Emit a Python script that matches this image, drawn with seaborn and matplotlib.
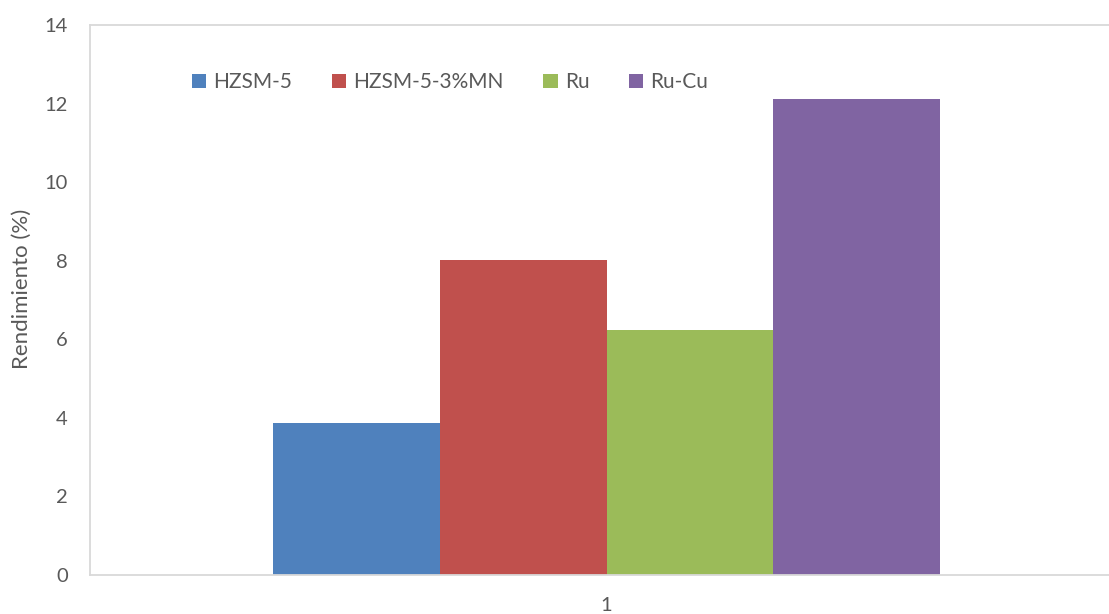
import matplotlib
matplotlib.use("Agg")
import matplotlib.pyplot as plt
import seaborn as sns
import pandas as pd

# Yield per catalyst (single experiment group "1")
catalysts = ["HZSM-5", "HZSM-5-3%MN", "Ru", "Ru-Cu"]
rendimiento = [3.87, 8.02, 6.24, 12.12]
grupo = ["1", "1", "1", "1"]
colores = ["#4F81BD", "#C0504D", "#9BBB59", "#8064A2"]
yticks = [0, 2, 4, 6, 8, 10, 12, 14]

sns.set_theme(style="white")
plt.rcParams["font.family"] = ["Lato", "DejaVu Sans"]

df = pd.DataFrame({"grupo": grupo, "catalizador": catalysts, "rendimiento": rendimiento})

W, H = 1109, 614
fig = plt.figure(figsize=(W / 100, H / 100), dpi=100)
ax = fig.add_axes([90 / W, (H - 575) / H, 1033 / W, 550 / H])

sns.barplot(data=df, x="grupo", y="rendimiento", hue="catalizador",
            hue_order=catalysts, palette=colores, width=0.646,
            saturation=1, ax=ax, legend=True, linewidth=0, errorbar=None)

ax.set_xlim(-0.5, 0.5)
ax.set_ylim(0, 14)
ax.set_yticks(yticks)
ax.set_yticklabels([str(v) for v in yticks])
ax.set_xlabel("")
ax.set_ylabel("Rendimiento (%)", fontsize=16, color="#595959")
ax.yaxis.set_label_coords(-0.056, 0.52)
ax.tick_params(axis="both", length=0, labelsize=14.5, labelcolor="#595959")
ax.tick_params(axis="y", pad=16)
ax.tick_params(axis="x", pad=16)

for s in ax.spines.values():
    s.set_visible(True)
    s.set_color("#D9D9D9")
    s.set_linewidth(1.3)

handles, labels = ax.get_legend_handles_labels()
ax.legend(handles, labels, ncol=4, frameon=False, loc="center left",
          bbox_to_anchor=(192 / W, 1 - 82 / H), bbox_transform=fig.transFigure,
          fontsize=15, labelcolor="#595959", handlelength=0.68, handleheight=0.68,
          handletextpad=0.35, columnspacing=1.9, borderaxespad=0, borderpad=0)

fig.savefig("out.png", dpi=100)
